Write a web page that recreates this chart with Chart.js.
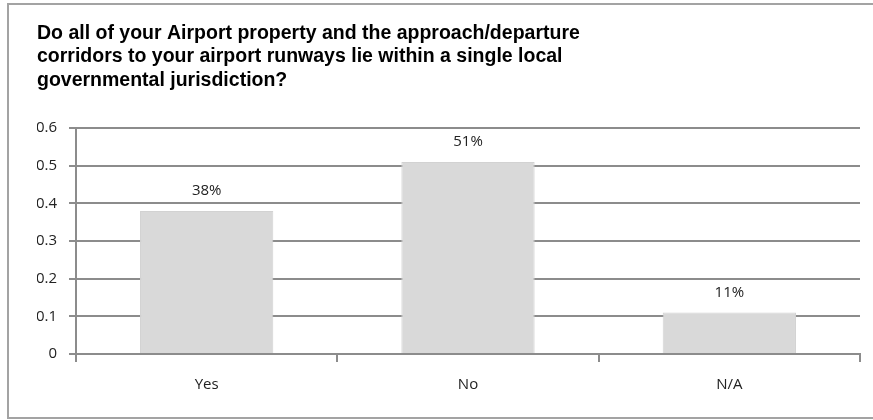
<!DOCTYPE html>
<html lang="en">
<head>
  <meta charset="UTF-8" />
  <title>Airport jurisdiction</title>
  <style>
    body {
      margin: 0;
      background-color: #ffffff;
    }

    .wrap {
      width: 873px;
      height: 420px;
    }
  </style>
</head>
<body>
  <div class="wrap">
    <canvas id="chart" width="873" height="420"></canvas>
  </div>

  <script src="https://cdn.jsdelivr.net/npm/chart.js"></script>
  <script>
    const titleLines = [
      'Do all of your Airport property and the approach/departure',
      'corridors to your airport runways lie within a single local',
      'governmental jurisdiction?'
    ];
    const categories = ['Yes', 'No', 'N/A'];
    const shares = [0.38, 0.51, 0.11];
    const shareLabels = ['38%', '51%', '11%'];
    const yTicks = [0, 0.1, 0.2, 0.3, 0.4, 0.5, 0.6];

    const gridGrey = '#8c8c8c';
    const tickFont = { family: "'Open Sans', sans-serif", size: 15 };

    // grey frame round the whole chart (right side runs off the picture)
    const framePlugin = {
      id: 'frame',
      beforeDraw(chart) {
        const c = chart.ctx;
        c.save();
        c.strokeStyle = '#a3a3a3';
        c.lineWidth = 2;
        c.strokeRect(8, 4, 900, 414);
        c.restore();
      }
    };

    // percentage text above each bar
    const valueLabels = {
      id: 'valueLabels',
      afterDatasetsDraw(chart) {
        const c = chart.ctx;
        const bars = chart.getDatasetMeta(0).data;
        c.save();
        c.font = "15px 'Open Sans', sans-serif";
        c.fillStyle = '#222222';
        c.textAlign = 'center';
        c.textBaseline = 'middle';
        bars.forEach((bar, i) => {
          c.fillText(shareLabels[i], bar.x, bar.y - 20);
        });
        c.restore();
      }
    };

    new Chart(document.getElementById('chart'), {
      type: 'bar',
      data: {
        labels: categories,
        datasets: [{
          data: shares,
          backgroundColor: '#d9d9d9',
          borderColor: '#d2d2d2',
          borderWidth: 1,
          barPercentage: 0.51,
          categoryPercentage: 1
        }]
      },
      options: {
        responsive: false,
        animation: false,
        layout: { padding: { left: 37, right: 13, top: 0, bottom: 0 } },
        plugins: {
          legend: { display: false },
          tooltip: { enabled: false },
          title: {
            display: true,
            text: titleLines,
            align: 'start',
            color: '#000000',
            font: { family: "'Liberation Sans', Arial, sans-serif", size: 19.5, weight: 'bold', lineHeight: 1.2 },
            padding: { top: 22, bottom: 36 }
          }
        },
        scales: {
          x: {
            grid: {
              offset: true,
              drawOnChartArea: false,
              color: gridGrey,
              lineWidth: 2,
              tickLength: 8
            },
            border: { color: gridGrey, width: 2 },
            ticks: { color: '#222222', font: tickFont, padding: 14 },
            afterFit(scale) { scale.height = 66; }
          },
          y: {
            min: 0,
            max: 0.6,
            afterBuildTicks(scale) {
              scale.ticks = yTicks.map(v => ({ value: v }));
            },
            grid: { color: gridGrey, lineWidth: 2, tickLength: 7 },
            border: { color: gridGrey, width: 2 },
            ticks: {
              color: '#222222',
              font: tickFont,
              padding: 12,
              callback: v => String(v)
            },
            afterFit(scale) { scale.width = 39; }
          }
        }
      },
      plugins: [framePlugin, valueLabels]
    });
  </script>
</body>
</html>
